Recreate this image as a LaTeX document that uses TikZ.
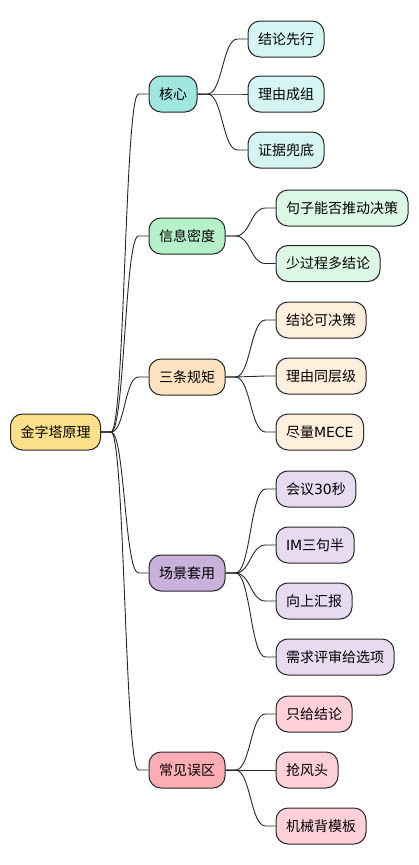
\documentclass[tikz,border=0pt]{standalone}
\usepackage{fontspec}
\setmainfont{Noto Sans CJK SC}
\newfontfamily\dv{DejaVu Sans}
\usetikzlibrary{calc}
\definecolor{rootc}{HTML}{FFE08A}
\definecolor{coreA}{HTML}{A0E6E0}
\definecolor{coreB}{HTML}{D5F5F2}
\definecolor{infoA}{HTML}{B4F0C8}
\definecolor{infoB}{HTML}{DCF8E4}
\definecolor{ruleA}{HTML}{FFE2BF}
\definecolor{ruleB}{HTML}{FFEFDC}
\definecolor{sceA}{HTML}{C9B1DB}
\definecolor{sceB}{HTML}{E6DBF0}
\definecolor{errA}{HTML}{FFADB4}
\definecolor{errB}{HTML}{FFD0DA}
\tikzset{
  x=1pt,y=-1pt,
  mmnode/.style={draw=black!85,line width=1pt,rounded corners=12pt,minimum height=36pt,
    inner xsep=10pt,inner ysep=0pt,anchor=west,font=\fontsize{14}{16}\selectfont},
  conn/.style={draw=black!85,line width=0.9pt},
}
\newcommand\mmconn[2]{\draw[conn] let \p1=(#1.east), \p2=(#2.west) in
  (\p1) -- (\x1+10pt,\y1) .. controls ({(\x1+\x2)/2},\y1) and ({(\x1+\x2)/2},\y2) .. (\x2-10pt,\y2) -- (\p2);}
\begin{document}
\begin{tikzpicture}
\useasboundingbox (0,0) rectangle (418,865);
\node[mmnode,fill=rootc] (root) at (10,432) {金字塔原理};
\node[mmnode,fill=coreA] (core) at (148.5,94) {核心};
\node[mmnode,fill=infoA] (info) at (148.5,236) {信息密度};
\node[mmnode,fill=ruleA] (rule) at (148.5,377) {三条规矩};
\node[mmnode,fill=sceA] (sce) at (148.5,573) {场景套用};
\node[mmnode,fill=errA] (err) at (148.5,770) {常见误区};
\node[mmnode,fill=coreB] (c1) at (247.5,39) {结论先行};
\node[mmnode,fill=coreB] (c2) at (247.5,94) {理由成组};
\node[mmnode,fill=coreB] (c3) at (247.5,150) {证据兜底};
\node[mmnode,fill=infoB] (i1) at (275.5,208) {句子能否推动决策};
\node[mmnode,fill=infoB] (i2) at (275.5,263.5) {少过程多结论};
\node[mmnode,fill=ruleB] (r1) at (275.5,320) {结论可决策};
\node[mmnode,fill=ruleB] (r2) at (275.5,376) {理由同层级};
\node[mmnode,fill=ruleB] (r3) at (275.5,432) {尽量{\dv MECE}};
\node[mmnode,fill=sceB] (s1) at (275.5,489) {会议{\dv 30}秒};
\node[mmnode,fill=sceB] (s2) at (275.5,545) {{\dv IM}三句半};
\node[mmnode,fill=sceB] (s3) at (275.5,601) {向上汇报};
\node[mmnode,fill=sceB] (s4) at (275.5,657) {需求评审给选项};
\node[mmnode,fill=errB] (e1) at (275.5,714) {只给结论};
\node[mmnode,fill=errB] (e2) at (275.5,770) {抢风头};
\node[mmnode,fill=errB] (e3) at (275.5,826) {机械背模板};
\mmconn{root}{core}
\mmconn{root}{info}
\mmconn{root}{rule}
\mmconn{root}{sce}
\mmconn{root}{err}
\mmconn{core}{c1}
\mmconn{core}{c2}
\mmconn{core}{c3}
\mmconn{info}{i1}
\mmconn{info}{i2}
\mmconn{rule}{r1}
\mmconn{rule}{r2}
\mmconn{rule}{r3}
\mmconn{sce}{s1}
\mmconn{sce}{s2}
\mmconn{sce}{s3}
\mmconn{sce}{s4}
\mmconn{err}{e1}
\mmconn{err}{e2}
\mmconn{err}{e3}
\end{tikzpicture}
\end{document}
